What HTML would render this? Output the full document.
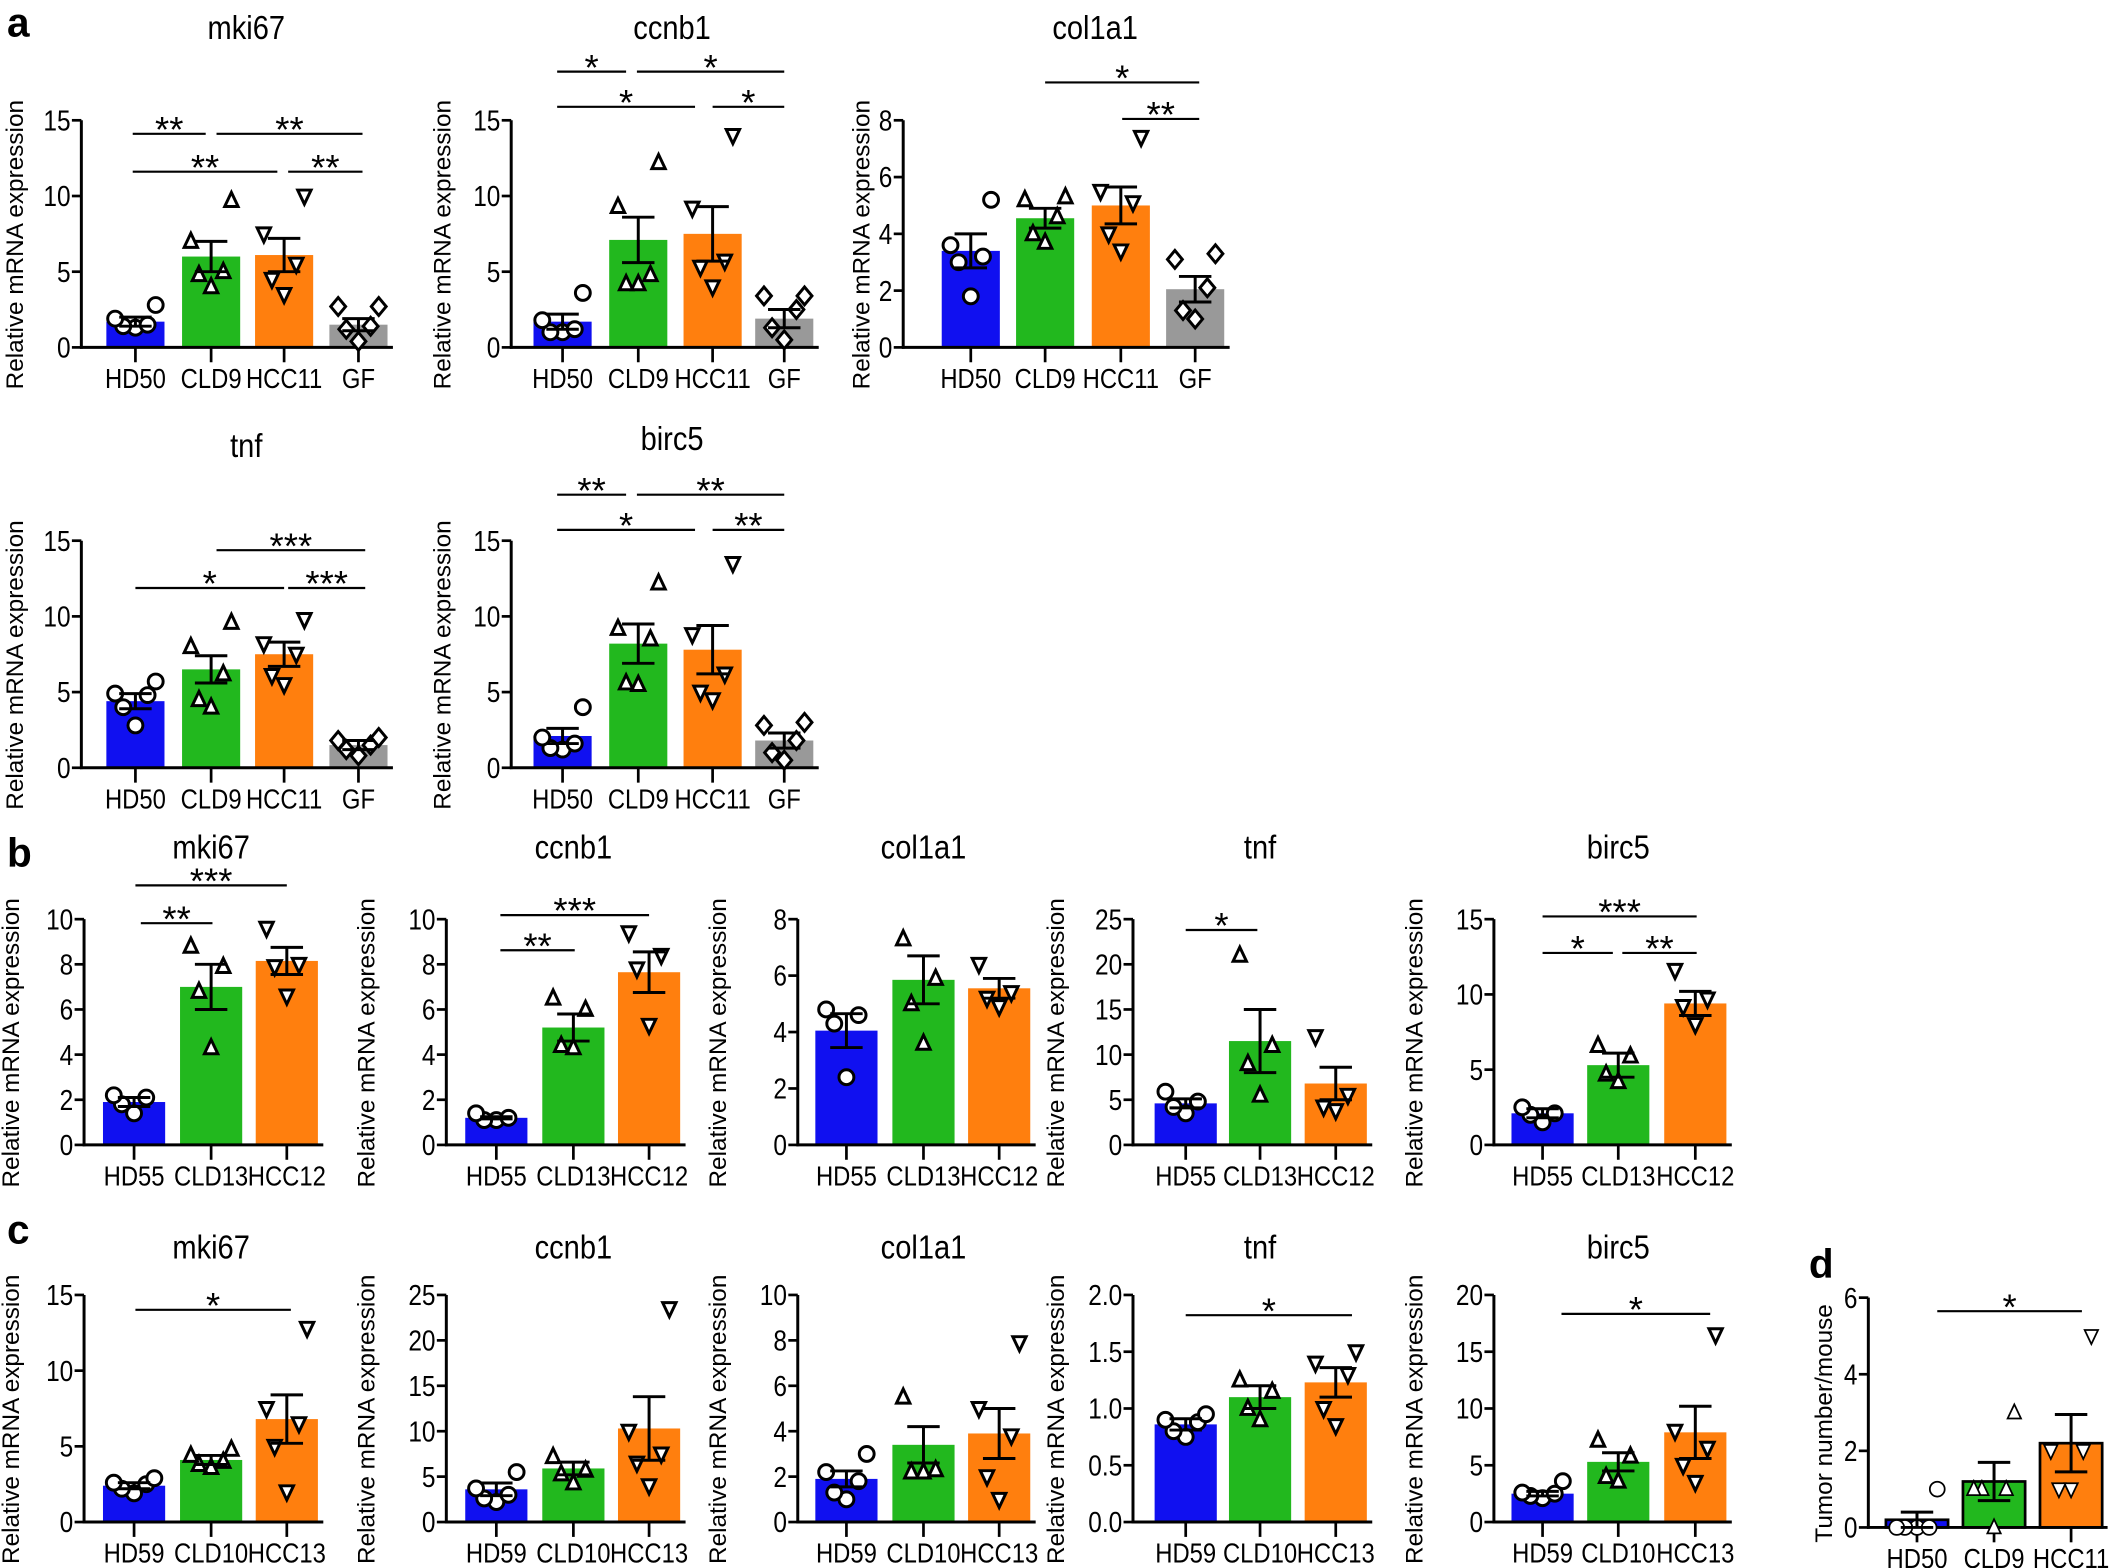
<!DOCTYPE html>
<html><head><meta charset="utf-8"><style>
html,body{margin:0;padding:0;background:#fff;width:2120px;height:1568px;overflow:hidden}
svg{display:block}
text{font-family:"Liberation Sans",Arial,sans-serif;fill:#000}
</style></head><body>
<svg id="s" width="2120" height="1568" viewBox="0 0 1568 1160" xmlns="http://www.w3.org/2000/svg"></svg>
<script>
const S=document.getElementById('s');let h='';
const COL={HD:'#1010f0',CLD:'#22b81e',HCC:'#ff7f0e',GF:'#999999'};
function T(x,y,fs,anchor,txt,sx){sx=sx||0.86;return `<text transform="translate(${x},${y}) scale(${sx},1)" font-size="${fs}" text-anchor="${anchor}">${txt}</text>`;}
function mk(type,x,y,r,sw){
 let st=`fill="#fff" stroke="#000" stroke-width="${sw}"`;
 if(type==='c')return `<circle cx="${x}" cy="${y}" r="${r}" ${st}/>`;
 if(type==='u')return `<polygon points="${x},${y-r*1.1} ${x-r*0.9},${y+r*0.8} ${x+r*0.9},${y+r*0.8}" ${st}/>`;
 if(type==='d')return `<polygon points="${x},${y+r*1.1} ${x-r*0.9},${y-r*0.8} ${x+r*0.9},${y-r*0.8}" ${st}/>`;
 return `<polygon points="${x},${y-r*1.2} ${x+r},${y} ${x},${y+r*1.2} ${x-r},${y}" ${st}/>`;
}
function panel(p){
 const ax=p.ax,y0=p.y0,top=p.top,max=p.max;const sc=v=>y0-(v/max)*(y0-top);
 const bw=p.bw||43;const last=p.g[p.g.length-1].c;const xe=last+bw/2+4;
 p.g.forEach(g=>{
  h+=`<rect x="${g.c-bw/2}" y="${sc(g.v)}" width="${bw}" height="${y0-sc(g.v)}" fill="${COL[g.k]}" ${p.outline?'stroke="#000" stroke-width="2"':''}/>`;
 });
 h+=`<line x1="${ax}" y1="${top}" x2="${ax}" y2="${y0+1}" stroke="#000" stroke-width="2.2"/>`;
 h+=`<line x1="${ax-1}" y1="${y0}" x2="${xe}" y2="${y0}" stroke="#000" stroke-width="2.2"/>`;
 p.ticks.forEach((t,i)=>{const y=sc(t);
  h+=`<line x1="${ax-7}" y1="${y}" x2="${ax}" y2="${y}" stroke="#000" stroke-width="2"/>`;
  h+=T(ax-8,y+7.5,21,'end',p.tl?p.tl[i]:t);});
 p.g.forEach(g=>{
  h+=`<line x1="${g.c}" y1="${y0}" x2="${g.c}" y2="${y0+11}" stroke="#000" stroke-width="2"/>`;
  h+=T(g.c,y0+30,20.5,'middle',g.l);
  const type={HD:'c',CLD:'u',HCC:'d',GF:'q'}[g.k];
  g.p.forEach((v,i)=>{const off=[0,-9,9,-15,15,-4,4][i]||0;
   h+=mk(type,g.c+off,sc(v),5.5,p.thin?1.3:2.2);});
  const a=sc(g.v+g.e),b=sc(Math.max(0,g.v-g.e));
  h+=`<line x1="${g.c}" y1="${a}" x2="${g.c}" y2="${b}" stroke="#000" stroke-width="2.2"/>`;
  h+=`<line x1="${g.c-12}" y1="${a}" x2="${g.c+12}" y2="${a}" stroke="#000" stroke-width="2.2"/>`;
  h+=`<line x1="${g.c-12}" y1="${b}" x2="${g.c+12}" y2="${b}" stroke="#000" stroke-width="2.2"/>`;
 });
 (p.sig||[]).forEach(s=>{
  h+=`<line x1="${s[0]}" y1="${s[2]}" x2="${s[1]}" y2="${s[2]}" stroke="#000" stroke-width="1.6"/>`;
  h+=`<text x="${(s[0]+s[1])/2}" y="${s[2]+6}" font-size="27" text-anchor="middle" font-family="DejaVu Sans">${s[3]}</text>`;});
 h+=`<text transform="translate(${p.lx},${y0-(y0-top)/2+8}) rotate(-90)" font-size="18" text-anchor="middle">${p.ylab||'Relative mRNA expression'}</text>`;
 if(p.t)h+=T(p.tx,p.ty,25,'middle',p.t);
}
const G4=(c,l,vals)=>vals.map((d,i)=>({c:c[i],l:l[i],k:['HD','CLD','HCC','GF'][i],v:d[0],e:d[1],p:d[2]}));
const LA=['HD50','CLD9','HCC11','GF'];
panel({ax:60,y0:257,top:89,max:15,ticks:[0,5,10,15],lx:17,t:'mki67',tx:182,ty:29,
 g:G4([100,156,210,265],LA,[[1.7,0.3,[1.3,1.4,1.5,1.9,2.8]],[6.0,1.0,[4.0,4.8,5.0,7.0,9.7]],[6.1,1.1,[3.5,4.5,5.5,7.5,10]],[1.5,0.4,[0.4,1.2,1.4,2.7,2.7]]]),
 sig:[[98,152,99,'**'],[160,268,99,'**'],[98,205,127,'**'],[213,268,127,'**']]});
panel({ax:378,y0:257,top:89,max:15,ticks:[0,5,10,15],lx:333,t:'ccnb1',tx:497,ty:29,
 g:G4([416,472,527,580],LA,[[1.7,0.5,[1,1,1.2,1.8,3.6]],[7.1,1.5,[4.2,4.2,4.8,9.3,12.2]],[7.5,1.8,[4,5.3,5.7,9.2,14]],[1.9,0.6,[0.5,1.3,2.5,3.4,3.4]]]),
 sig:[[412,463,53,'*'],[471,580,53,'*'],[412,514,79,'*'],[527,580,79,'*']]});
panel({ax:668,y0:257,top:89,max:8,ticks:[0,2,4,6,8],lx:643,t:'col1a1',tx:810,ty:29,
 g:G4([718,773,829,884],LA,[[3.4,0.6,[1.8,3.0,3.2,3.6,5.2]],[4.55,0.35,[3.7,4.0,4.6,5.2,5.3]],[5.0,0.65,[3.4,4.0,5.1,5.5,7.4]],[2.05,0.45,[1.0,1.3,2.1,3.1,3.3]]]),
 sig:[[773,887,61,'*'],[830,887,88,'**']]});
panel({ax:60,y0:568,top:400,max:15,ticks:[0,5,10,15],lx:17,t:'tnf',tx:182,ty:338,
 g:G4([100,156,210,265],LA,[[4.4,0.5,[2.8,4,4.8,4.9,5.7]],[6.5,0.9,[4,4.5,6.2,8,9.6]],[7.5,0.8,[5.5,6.1,7.5,8.2,9.8]],[1.5,0.3,[0.8,1.2,1.5,1.8,2.0]]]),
 sig:[[100,210,435,'*'],[160,270,407,'***'],[213,270,435,'***']]});
panel({ax:378,y0:568,top:400,max:15,ticks:[0,5,10,15],lx:333,t:'birc5',tx:497,ty:333,
 g:G4([416,472,527,580],LA,[[2.1,0.5,[1.2,1.3,1.6,2,4]],[8.2,1.3,[5.5,5.6,8.5,9.2,12.2]],[7.8,1.6,[4.5,5,6.2,8.8,13.5]],[1.8,0.5,[0.5,1,1.8,2.8,3]]]),
 sig:[[412,463,366,'**'],[471,580,366,'**'],[412,514,392,'*'],[527,580,392,'**']]});
const G3=(c,l,vals)=>vals.map((d,i)=>({c:c[i],l:l[i],k:['HD','CLD','HCC'][i],v:d[0],e:d[1],p:d[2]}));
const LB=['HD55','CLD13','HCC12'];
const B=[[62,99,156,212,14],[330,367,424,480,277],[590,626,683,739,537],[838,877,932,988,787],[1105,1141,1197,1254,1052]];
const bT=['mki67','ccnb1','col1a1','tnf','birc5'];
const bMax=[10,10,8,25,15],bTk=[[0,2,4,6,8,10],[0,2,4,6,8,10],[0,2,4,6,8],[0,5,10,15,20,25],[0,5,10,15]];
const bD=[
 [[1.9,0.2,[1.4,1.8,2.1,2.2]],[7.0,1.0,[4.3,6.8,7.9,8.8]],[8.15,0.6,[6.6,7.9,8.0,9.6]]],
 [[1.2,0.05,[1.1,1.1,1.2,1.4]],[5.2,0.6,[4.3,4.4,6.0,6.5]],[7.65,0.9,[5.3,7.8,8.4,9.4]]],
 [[4.05,0.6,[2.4,4.3,4.6,4.8]],[5.85,0.85,[3.6,5.0,5.9,7.3]],[5.55,0.35,[4.9,5.2,5.4,6.4]]],
 [[4.6,0.5,[3.5,4.2,4.8,5.9]],[11.5,3.5,[5.5,9,11,21]],[6.8,1.8,[3.8,4.2,5.5,12]]],
 [[2.1,0.3,[1.5,2,2.1,2.5]],[5.3,0.8,[4.2,4.7,5.9,6.6]],[9.4,0.8,[8,9.2,9.7,11.6]]]];
const bS=[[[104,157,683,'**'],[100,212,655,'***']],[[370,425,703,'**'],[370,480,677,'***']],[],[[877,930,688,'*']],
 [[1141,1193,705,'*'],[1200,1255,705,'**'],[1141,1255,678,'***']]];
B.forEach((b,i)=>panel({ax:b[0],y0:847,top:680,max:bMax[i],ticks:bTk[i],lx:b[4],t:bT[i],tx:b[2],ty:635,bw:46,
 g:G3([b[1],b[2],b[3]],LB,bD[i]),sig:bS[i]}));
const LC=['HD59','CLD10','HCC13'];
const cMax=[15,25,10,2,20],cTk=[[0,5,10,15],[0,5,10,15,20,25],[0,2,4,6,8,10],[0,0.5,1,1.5,2],[0,5,10,15,20]];
const cD=[
 [[2.4,0.2,[1.9,2.2,2.5,2.6,2.9]],[4.1,0.3,[3.6,3.8,4.0,4.4,4.8]],[6.8,1.6,[2,5,6.5,7.5,12.8]]],
 [[3.6,0.7,[2.2,2.6,3,3.7,5.5]],[5.9,0.7,[4.3,5.3,5.7,7.2]],[10.3,3.5,[4,6.5,7.5,10,23.5]]],
 [[1.9,0.35,[1,1.3,1.8,2.2,3]],[3.4,0.8,[2.2,2.2,2.3,5.5]],[3.9,1.1,[1,2,3.8,5,7.9]]],
 [[0.86,0.05,[0.75,0.8,0.88,0.9,0.95]],[1.1,0.1,[0.9,1.0,1.15,1.25]],[1.23,0.13,[0.85,1.0,1.3,1.4,1.5]]],
 [[2.5,0.2,[2.1,2.3,2.5,2.6,3.6]],[5.3,0.8,[3.6,4,5.8,7.2]],[7.9,2.3,[3.5,5,6.5,8,16.5]]]];
const cS=[[[100,215,969,'*']],[],[],[[877,1000,973,'*']],[[1155,1265,972,'*']]];
B.forEach((b,i)=>panel({ax:b[0],y0:1126,top:958,max:cMax[i],ticks:cTk[i],tl:i==3?['0.0','0.5','1.0','1.5','2.0']:null,lx:b[4],t:bT[i],tx:b[2],ty:931,bw:46,
 g:G3([b[1],b[2],b[3]],LC,cD[i]),sig:cS[i]}));
panel({ax:1382,y0:1130,top:960,max:6,ticks:[0,2,4,6],lx:1355,t:'',tx:0,ty:0,bw:46,outline:true,thin:true,ylab:'Tumor number/mouse',
 g:G3([1418,1475,1532],['HD50','CLD9','HCC11'],[[0.2,0.2,[0,0,0,0,1]],[1.2,0.5,[0,1,1,1,3]],[2.2,0.75,[1,1,2,2,5]]]),
 sig:[[1433,1540,970,'*']]});
h+=`<text x="5" y="27" font-size="30" font-weight="bold">a</text>`;
h+=`<text x="5" y="641" font-size="30" font-weight="bold">b</text>`;
h+=`<text x="5" y="920" font-size="30" font-weight="bold">c</text>`;
h+=`<text x="1338" y="945" font-size="30" font-weight="bold">d</text>`;
S.innerHTML=h;
</script>
</body></html>
